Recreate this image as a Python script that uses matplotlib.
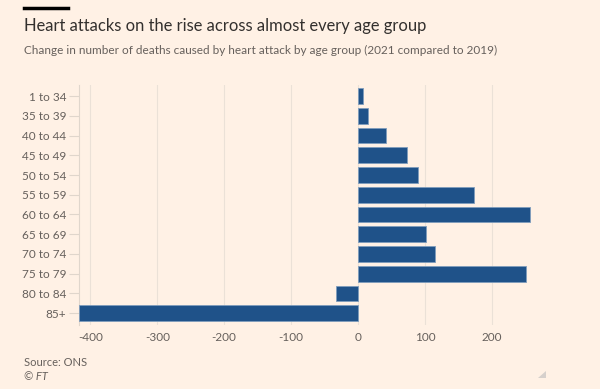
import matplotlib
matplotlib.use("Agg")
import matplotlib.pyplot as plt
from matplotlib.patches import Polygon

ages = ["1 to 34", "35 to 39", "40 to 44", "45 to 49", "50 to 54", "55 to 59",
        "60 to 64", "65 to 69", "70 to 74", "75 to 79", "80 to 84", "85+"]
change = [8, 15, 42, 73, 90, 174, 257, 102, 115, 251, -33, -417]
xticks = [-400, -300, -200, -100, 0, 100, 200]

bg = "#fff1e5"
bar_col = "#1f5289"
grey = "#66605c"

plt.rcParams["font.family"] = ["Lato", "DejaVu Sans"]

fig = plt.figure(figsize=(6, 3.89), dpi=100, facecolor=bg)
ax = fig.add_axes([79/600, 1-325/389, (552-79)/600, (325-85)/389])
ax.set_facecolor(bg)

ypos = list(range(len(ages)))
ax.barh(ypos, change, height=0.8, color=bar_col, edgecolor="#7f9dbd", linewidth=0.6, zorder=3)

ax.set_xlim(-417, 290)
ax.set_ylim(11.6, -0.56)
ax.set_yticks(ypos)
ax.set_yticklabels(ages)
ax.set_xticks(xticks)
ax.set_xticklabels([str(v) for v in xticks])
ax.grid(axis="x", color="#ebe1d7", linewidth=0.8, zorder=0)
ax.tick_params(axis="y", length=7, color="#e0d6cc", labelsize=8.5, labelcolor=grey, pad=2)
ax.tick_params(axis="x", length=0, labelsize=8.5, labelcolor=grey, pad=5)
for s in ["top", "right", "bottom"]:
    ax.spines[s].set_visible(False)
ax.spines["left"].set_color("#e0d6cc")

# header
fig.add_artist(plt.Line2D([23.7/600, 68/600], [1-7.5/389, 1-7.5/389], color="#000000", linewidth=2.5))
fig.text(23.7/600, 1-26/389, "Heart attacks on the rise across almost every age group",
         fontsize=11.9, color="#33302e", va="center", ha="left")
fig.text(23.7/600, 1-50/389, "Change in number of deaths caused by heart attack by age group (2021 compared to 2019)",
         fontsize=8.5, color=grey, va="center", ha="left")
fig.text(23.7/600, 1-363/389, "Source: ONS", fontsize=8, color=grey, va="center", ha="left")
fig.text(23.7/600, 1-377/389, "© FT", fontsize=8, color=grey, va="center", ha="left", style="italic")

tri = Polygon([(546/600, 1-371/389), (546/600, 1-378/389), (538/600, 1-378/389)],
              closed=True, transform=fig.transFigure, facecolor="#d6d0cc", edgecolor="none")
fig.add_artist(tri)

fig.savefig("out.png", dpi=100, facecolor=bg)
